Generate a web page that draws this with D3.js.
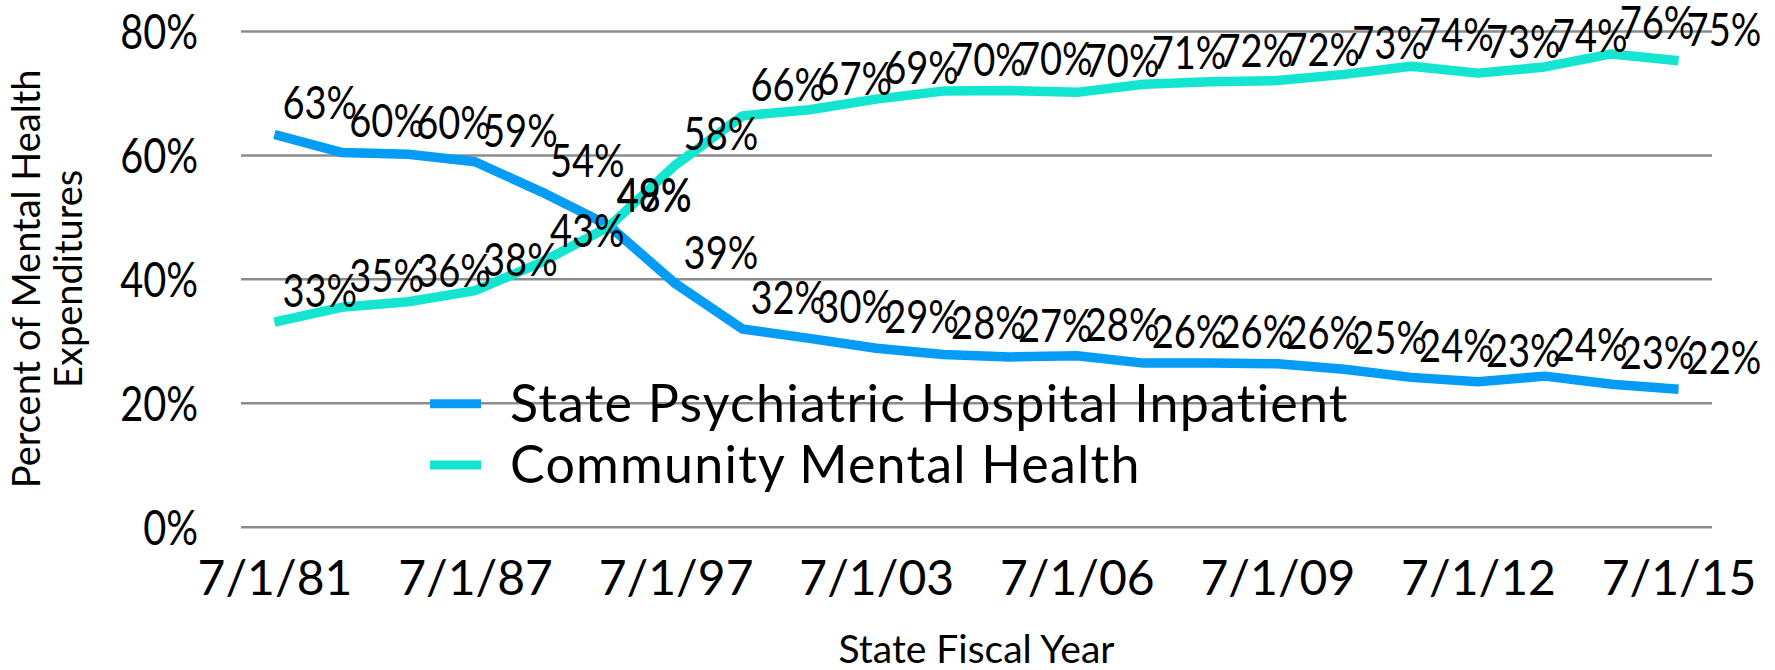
<html>
<head>
<script src="https://cdnjs.cloudflare.com/ajax/libs/d3/7.8.5/d3.min.js"></script>
<style>
  body { margin: 0; background: #fff; }
  .wide { font-family: Lato, "Open Sans", sans-serif; }
</style>
</head>
<body>
<div id="chart"></div>
<script>
// fiscal years (only every third one is labelled on the axis)
var years = ["7/1/81","7/1/83","7/1/85","7/1/87","7/1/90","7/1/93","7/1/97","7/1/01","7/1/02","7/1/03","7/1/04",
             "7/1/05","7/1/06","7/1/07","7/1/08","7/1/09","7/1/10","7/1/11","7/1/12","7/1/13","7/1/14","7/1/15"];
var stateHospital = [63.3,60.4,60.1,58.9,54.0,48.6,39.2,31.9,30.4,28.8,27.8,27.4,27.6,26.4,26.4,26.3,25.4,24.1,23.4,24.3,23.0,22.2];
var community     = [33.0,35.4,36.3,38.1,42.7,48.4,58.4,66.3,67.3,69.0,70.3,70.4,70.1,71.4,71.8,72.0,73.0,74.3,73.2,74.2,76.3,75.2];
var yTicks = [0,20,40,60,80];
var seriesNames = ["State Psychiatric Hospital Inpatient","Community Mental Health"];
var colors = ["#049CF4","#14E5D1"];

var W = 1775, H = 670;
// plot box (don't call these top/left, window.top is taken)
var plotL = 241, plotR = 1712, plotT = 31, plotB = 526.7;
var squeeze = 0.81;   // the percent labels are a condensed face

var svg = d3.select("#chart").append("svg")
  .attr("width", W).attr("height", H)

var x = d3.scalePoint().domain(years).range([plotL, plotR]).padding(0.5)
var y = d3.scaleLinear().domain([0, 80]).range([plotB, plotT])

// gridlines + y labels
var yAxis = svg.append("g")
  .attr("transform", "translate(" + plotL + ",0)")
  .call(d3.axisLeft(y).tickValues(yTicks).tickSize(-(plotR - plotL)).tickPadding(43).tickFormat(function(d){ return d + "%" }))
yAxis.select(".domain").remove()
yAxis.selectAll("line").attr("stroke", "#8c8c8c").attr("stroke-width", 2.5)
yAxis.selectAll("text").attr("class", "wide").attr("font-size", 49).attr("fill", "#000")
  .attr("x", 0).attr("dy", "0.36em")
  .attr("transform", "translate(-43,0) scale(" + squeeze + ",1)")

// x labels
var xAxis = svg.append("g")
  .attr("transform", "translate(0," + plotB + ")")
  .call(d3.axisBottom(x).tickValues(years.filter(function(d,i){ return i % 3 == 0 })).tickSize(0))
xAxis.select(".domain").remove()
xAxis.selectAll("text").attr("class", "wide").attr("font-size", 48).attr("fill", "#000")
  .attr("y", 68).attr("dy", 0)

// axis titles
svg.append("text").attr("class", "wide").attr("font-size", 39)
  .attr("x", (plotL + plotR) / 2).attr("y", 663).attr("text-anchor", "middle")
  .text("State Fiscal Year")
var yt = svg.append("text").attr("class", "wide").attr("font-size", 38).attr("text-anchor", "middle")
  .attr("transform", "translate(40," + ((plotT + plotB) / 2) + ") rotate(-90)")
yt.append("tspan").attr("x", 0).attr("y", 0).text("Percent of Mental Health")
yt.append("tspan").attr("x", 0).attr("y", 42).text("Expenditures")

// lines
var series = [stateHospital, community]
var line = d3.line().x(function(d, i){ return x(years[i]) }).y(function(d){ return y(d) })
series.forEach(function(s, k){
  svg.append("path").datum(s)
    .attr("d", line)
    .attr("fill", "none")
    .attr("stroke", colors[k])
    .attr("stroke-width", 9.5)
    .attr("stroke-linejoin", "round")
})

// data labels
series.forEach(function(s, k){
  svg.append("g").selectAll("text").data(s).enter().append("text")
    .attr("class", "wide")
    .attr("font-size", 47)
    .attr("transform", function(d, i){
      return "translate(" + (x(years[i]) + 8) + "," + (y(d) - 15) + ") scale(" + squeeze + ",1)"
    })
    .text(function(d){ return Math.round(d) + "%" })
})

// legend
var lg = svg.append("g")
seriesNames.forEach(function(name, k){
  var ly = 403.8 + k * 61.2
  lg.append("line").attr("x1", 430).attr("x2", 481).attr("y1", ly).attr("y2", ly)
    .attr("stroke", colors[k]).attr("stroke-width", 9)
  lg.append("text").attr("class", "wide").attr("font-size", 52)
    .attr("letter-spacing", 1.2)
    .attr("x", 510).attr("y", ly + 18).text(name)
})
</script>
</body>
</html>
